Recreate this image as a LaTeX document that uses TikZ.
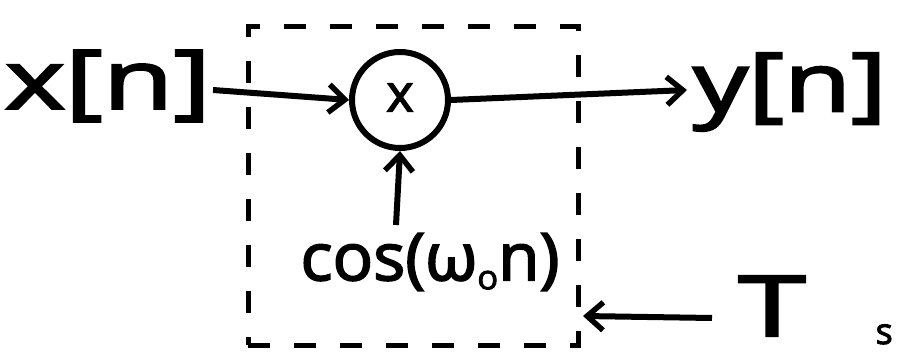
\documentclass[tikz,border=0pt]{standalone}
\usepackage{fontspec}
\setmainfont{Open Sans}
\newfontfamily\handfont{Open Sans}[FakeBold=2.5]
\usetikzlibrary{arrows.meta}
\tikzset{
  ink/.style={line width=6pt, draw=black},
  arr/.style={ink, -{Straight Barb[length=16pt,width=28pt,line width=5.5pt]}},
  lbl/.style={inner sep=0pt, font=\handfont\fontsize{#1}{#1}\selectfont},
}
\begin{document}
\begin{tikzpicture}[x=1pt,y=-1pt]
\useasboundingbox (0,0) rectangle (900,358);
\clip (0,0) rectangle (900,358);
\fill[white] (0,0) rectangle (900,358);
% dashed box
\node[draw, line width=5pt, dash pattern=on 22pt off 24pt, minimum width=330pt, minimum height=318pt, inner sep=0pt] (box) at (413,186) {};
% multiplier
\node[circle, ink, minimum size=96pt, inner sep=0pt, lbl=52] (mul) at (400,100) {\raisebox{5pt}{x}};
% labels
\node[lbl=82, xscale=1.4, transform shape] (xn) at (108,86) {x[n]};
\node[lbl=82, xscale=1.33, transform shape] (yn) at (790,92) {y[n]};
\node[lbl=66, xscale=1.02, transform shape] (cos) at (430,262) {cos(ω\raisebox{-9pt}{\fontsize{34}{34}\selectfont o}n)};
\node[lbl=84, anchor=base, xscale=1.45, transform shape] (T) at (772,336) {T};
\node[lbl=36, anchor=base east] (s) at (893,344) {s};
\coordinate (inend) at (213,90);
\coordinate (outend) at (687,90);
\coordinate (tstart) at (712,318);
\coordinate (tend) at (583,316);
% connectors
\draw[arr] (inend) -- (mul.west);
\draw[arr] (mul.east) -- (outend);
\draw[arr] (cos.north -| mul.south) ++(-4,-8) -- (mul.south);
\draw[arr] (tstart) -- (tend);
\end{tikzpicture}
\end{document}
